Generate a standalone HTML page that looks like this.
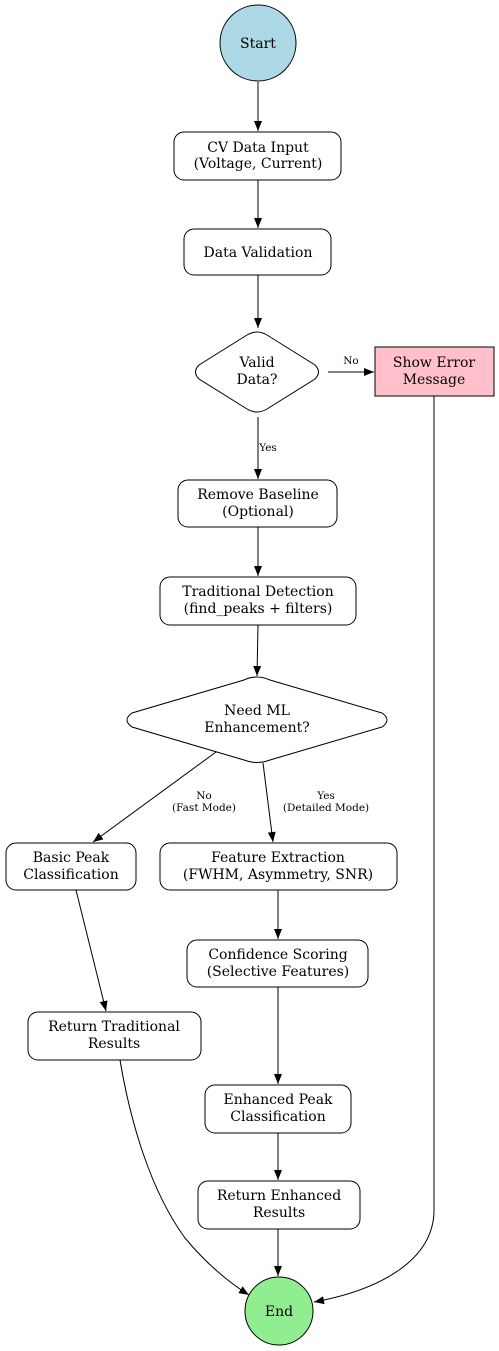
<!DOCTYPE html>
<html><head><meta charset="utf-8"><style>
html,body{margin:0;padding:0;background:#fff;}
svg{display:block;}
text{font-family:"DejaVu Serif","Liberation Serif",serif;font-size:14px;fill:#000;}
.s{font-size:10.5px;}
</style></head><body>
<svg width="499" height="1351" viewBox="0 0 499 1351" xmlns="http://www.w3.org/2000/svg">
<defs><marker id="a" markerWidth="10" markerHeight="8" refX="10" refY="4" orient="auto" markerUnits="userSpaceOnUse"><path d="M0,0L10,4L0,8z" fill="#000"/></marker></defs>
<g fill="none" stroke="#000" stroke-width="1">
<circle cx="258" cy="43" r="38" fill="#add8e6"/>
<rect x="174" y="132" width="167" height="48" rx="10" fill="#fff"/>
<rect x="184" y="229" width="147" height="46" rx="10" fill="#fff"/>
<path d="M257,332 Q262,332 267,335 L315,365 Q322,372 315,379 L267,409 Q257,415 247,409 L199,379 Q192,372 199,365 L247,335 Q252,332 257,332z" fill="#fff"/>
<rect x="375" y="347" width="119" height="49" fill="#ffc0cb"/>
<rect x="178" y="480" width="159" height="47" rx="10" fill="#fff"/>
<rect x="160" y="577" width="196" height="48" rx="10" fill="#fff"/>
<path d="M257,677 Q263,677 270,680 L382,713 Q392,720 382,727 L270,760 Q257,765 244,760 L132,727 Q122,720 132,713 L244,680 Q250,677 257,677z" fill="#fff"/>
<rect x="6" y="843" width="130" height="47" rx="10" fill="#fff"/>
<rect x="160" y="843" width="237" height="47" rx="10" fill="#fff"/>
<rect x="187" y="940" width="181" height="47" rx="10" fill="#fff"/>
<rect x="28" y="1012" width="173" height="48" rx="10" fill="#fff"/>
<rect x="205" y="1085" width="146" height="48" rx="10" fill="#fff"/>
<rect x="198" y="1181" width="162" height="48" rx="10" fill="#fff"/>
<circle cx="279" cy="1311" r="34" fill="#90ee90"/>
</g>
<g fill="none" stroke="#000" stroke-width="1" marker-end="url(#a)">
<path d="M258,82V131"/>
<path d="M258,180V228"/>
<path d="M258,275V328"/>
<path d="M328,372H374"/>
<path d="M258,417V479"/>
<path d="M258,527V576"/>
<path d="M258,625L257,676"/>
<path d="M216,752L93,842"/>
<path d="M263,763L273,842"/>
<path d="M278,890V939"/>
<path d="M76,890L106,1011"/>
<path d="M278,987V1084"/>
<path d="M278,1133V1180"/>
<path d="M278,1229V1276"/>
<path d="M120,1060C130,1120 150,1190 185,1238C205,1262 225,1280 249,1295"/>
<path d="M434,396V1210C434,1260 380,1290 314,1302"/>
</g>
<g text-anchor="middle">
<text x="258" y="48">Start</text>
<text x="258" y="152">CV Data Input</text><text x="258" y="168">(Voltage, Current)</text>
<text x="258" y="257">Data Validation</text>
<text x="257" y="367">Valid</text><text x="257" y="384">Data?</text>
<text x="434" y="367">Show Error</text><text x="434" y="384">Message</text>
<text x="258" y="499">Remove Baseline</text><text x="258" y="516">(Optional)</text>
<text x="258" y="596">Traditional Detection</text><text x="258" y="613">(find_peaks + filters)</text>
<text x="257" y="715">Need ML</text><text x="257" y="732">Enhancement?</text>
<text x="71" y="862">Basic Peak</text><text x="71" y="879">Classification</text>
<text x="278" y="862">Feature Extraction</text><text x="278" y="879">(FWHM, Asymmetry, SNR)</text>
<text x="278" y="959">Confidence Scoring</text><text x="278" y="976">(Selective Features)</text>
<text x="114" y="1031">Return Traditional</text><text x="114" y="1048">Results</text>
<text x="278" y="1104">Enhanced Peak</text><text x="278" y="1121">Classification</text>
<text x="279" y="1200">Return Enhanced</text><text x="279" y="1217">Results</text>
<text x="279" y="1316">End</text>
<text class="s" x="351" y="364">No</text>
<text class="s" x="268" y="451">Yes</text>
<text class="s" x="204" y="799">No</text><text class="s" x="204" y="811">(Fast Mode)</text>
<text class="s" x="326" y="799">Yes</text><text class="s" x="326" y="811">(Detailed Mode)</text>
</g>
</svg>
</body></html>
